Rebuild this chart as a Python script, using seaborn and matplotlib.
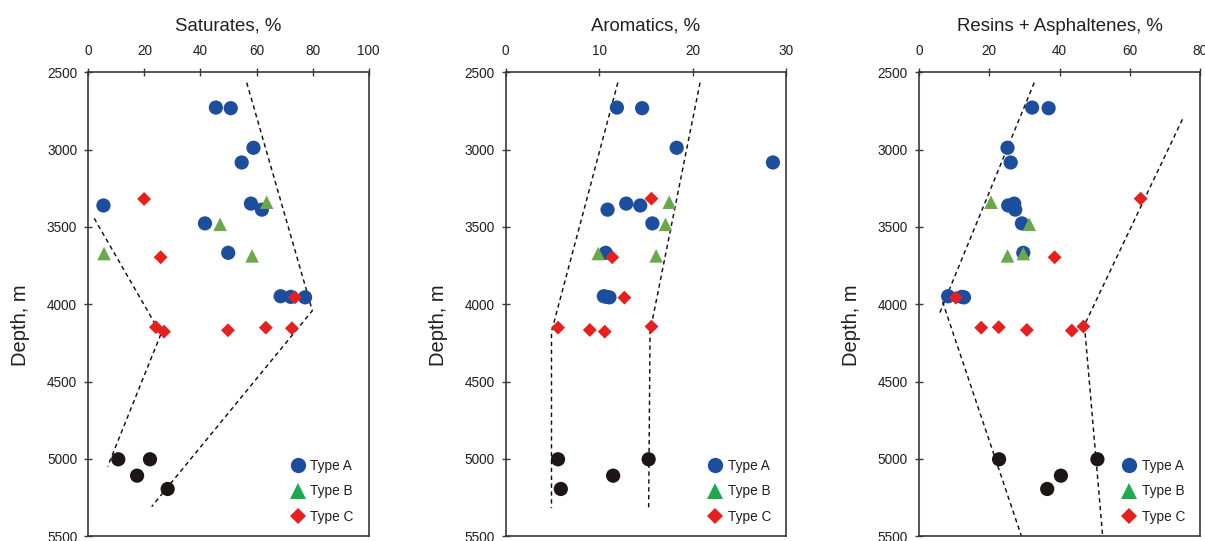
import matplotlib
matplotlib.use("Agg")
import matplotlib.pyplot as plt
import numpy as np
import pandas as pd
import seaborn as sns
from matplotlib.lines import Line2D

# ---------------- data ----------------
depth_A = [2728, 2732, 2988, 3083, 3349, 3361, 3388, 3477, 3667, 3948, 3952, 3955]
sat_A = [45.5, 50.8, 58.9, 54.7, 58.0, 5.4, 61.9, 41.6, 49.9, 68.6, 72.2, 77.3]
aro_A = [11.9, 14.6, 18.3, 28.6, 12.9, 14.4, 10.9, 15.7, 10.7, 10.5, 10.8, 11.1]
res_A = [32.2, 36.9, 25.2, 26.1, 27.1, 25.4, 27.4, 29.3, 29.7, 8.3, 12.2, 12.8]

depth_B = [3340, 3483, 3672, 3687]
sat_B = [63.6, 47.0, 5.6, 58.4]
aro_B = [17.5, 17.1, 9.9, 16.1]
res_B = [20.5, 31.4, 29.7, 25.2]

sat_C_depth = [3319, 3696, 3955, 4148, 4177, 4168, 4151, 4155]
sat_C = [19.9, 25.8, 73.7, 24.1, 27.0, 49.8, 63.3, 72.6]
aro_C_depth = [3317, 3696, 3957, 4151, 4166, 4177, 4144]
aro_C = [15.6, 11.4, 12.7, 5.6, 9.0, 10.6, 15.6]
res_C_depth = [3317, 3696, 3957, 4151, 4148, 4166, 4170, 4144]
res_C = [63.1, 38.6, 10.5, 17.7, 22.7, 30.7, 43.5, 46.8]

depth_D = [5002, 5002, 5108, 5194]
sat_D = [10.7, 22.0, 17.4, 28.3]
aro_D = [5.6, 15.3, 11.5, 5.9]
res_D = [22.8, 50.8, 40.4, 36.5]

# dashed trend boundaries (value, depth)
sat_left_x, sat_left_d = [2.1, 25.9, 6.9], [3444, 4192, 5049]
sat_right_x, sat_right_d = [56.5, 79.9, 22.6], [2567, 4041, 5308]
aro_left_x, aro_left_d = [12.0, 4.9, 4.9], [2567, 4177, 5318]
aro_right_x, aro_right_d = [20.8, 15.45, 15.3], [2567, 4177, 5318]
res_left1_x, res_left1_d = [32.8, 5.8], [2567, 4062]
res_left2_x, res_left2_d = [6.7, 29.2], [3983, 5502]
res_right_x, res_right_d = [75.0, 47.1, 52.3], [2804, 4134, 5502]

titles = ["Saturates, %", "Aromatics, %", "Resins + Asphaltenes, %"]
xlims = [(0, 100), (0, 30), (0, 80)]
xticks = [[0, 20, 40, 60, 80, 100], [0, 10, 20, 30], [0, 20, 40, 60, 80]]
yticks = [2500, 3000, 3500, 4000, 4500, 5000, 5500]
type_labels = ["Type A", "Type B", "Type C"]

# ---------------- style ----------------
sns.set_theme(style="white")
plt.rcParams["font.family"] = ["Liberation Sans", "DejaVu Sans"]
TXT = "#231f20"
AX = "#3d3636"
BLUE = "#1c4e9d"
GREEN = "#6aa84b"
GREEN_LEG = "#1ea84f"
RED = "#e5201f"
BLACK = "#1e1616"

fig = plt.figure(figsize=(12.05, 5.41), dpi=100)
W, H = 1205.0, 541.0
lefts = [88.3, 505.7, 919.0]
rights = [368.7, 786.0, 1200.0]
top_px, bot_px = 72.3, 536.3

panels = [
    (sat_A, sat_B, sat_C, sat_C_depth, sat_D,
     [(sat_left_x, sat_left_d), (sat_right_x, sat_right_d)]),
    (aro_A, aro_B, aro_C, aro_C_depth, aro_D,
     [(aro_left_x, aro_left_d), (aro_right_x, aro_right_d)]),
    (res_A, res_B, res_C, res_C_depth, res_D,
     [(res_left1_x, res_left1_d), (res_left2_x, res_left2_d), (res_right_x, res_right_d)]),
]

for i, (vA, vB, vC, dC, vD, lines) in enumerate(panels):
    ax = fig.add_axes([lefts[i] / W, 1 - bot_px / H,
                       (rights[i] - lefts[i]) / W, (bot_px - top_px) / H])
    df = pd.concat([
        pd.DataFrame({"value": vA, "depth": depth_A, "type": "Type A"}),
        pd.DataFrame({"value": vB, "depth": depth_B, "type": "Type B"}),
        pd.DataFrame({"value": vC, "depth": dC, "type": "Type C"}),
    ], ignore_index=True)
    dfd = pd.DataFrame({"value": vD, "depth": depth_D})

    for (lx, ld) in lines:
        ax.plot(lx, ld, color="#111111", lw=1.05, dashes=(3.0, 2.4), zorder=2)

    sns.scatterplot(data=dfd, x="value", y="depth", color=BLACK, s=105,
                    marker="o", edgecolor="none", legend=False, ax=ax, zorder=3)
    sizes = {"Type A": 105, "Type B": 95, "Type C": 50}
    for t, col, mk in [("Type A", BLUE, "o"), ("Type B", GREEN, "^"), ("Type C", RED, "D")]:
        sub = df[df["type"] == t]
        sns.scatterplot(data=sub, x="value", y="depth", color=col, marker=mk,
                        s=sizes[t], edgecolor="none", legend=False, ax=ax, zorder=4)

    ax.set_xlim(*xlims[i])
    ax.set_ylim(5500, 2500)
    ax.set_xticks(xticks[i])
    ax.set_yticks(yticks)
    ax.xaxis.tick_top()
    ax.set_xlabel("")
    ax.set_ylabel("Depth, m", fontsize=14.5, color=TXT)
    ax.yaxis.set_label_coords(-0.207, 0.455)
    ax.tick_params(axis="both", direction="inout", length=6, width=1.0,
                   color=AX, labelsize=9.8, labelcolor=TXT)
    ax.tick_params(axis="x", pad=7.5, top=True, bottom=False)
    ax.tick_params(axis="y", pad=5, left=True, right=False)
    for sp in ax.spines.values():
        sp.set_visible(True)
        sp.set_color(AX)
        sp.set_linewidth(1.2)
    ax.set_title(titles[i], fontsize=13.4, color=TXT, y=1.0, pad=30)

    handles = [
        Line2D([], [], ls="none", marker="o", color=BLUE, markersize=11, markeredgewidth=0),
        Line2D([], [], ls="none", marker="^", color=GREEN_LEG, markersize=11, markeredgewidth=0),
        Line2D([], [], ls="none", marker="D", color=RED, markersize=8.5, markeredgewidth=0),
    ]
    leg = ax.legend(handles, type_labels, loc="lower right", bbox_to_anchor=(0.99, 0.0),
                    frameon=False, fontsize=9.8, labelspacing=0.85, handletextpad=0.3,
                    borderpad=0.4, handlelength=1.2)
    for t in leg.get_texts():
        t.set_color(TXT)

fig.savefig("out.png", dpi=100)
